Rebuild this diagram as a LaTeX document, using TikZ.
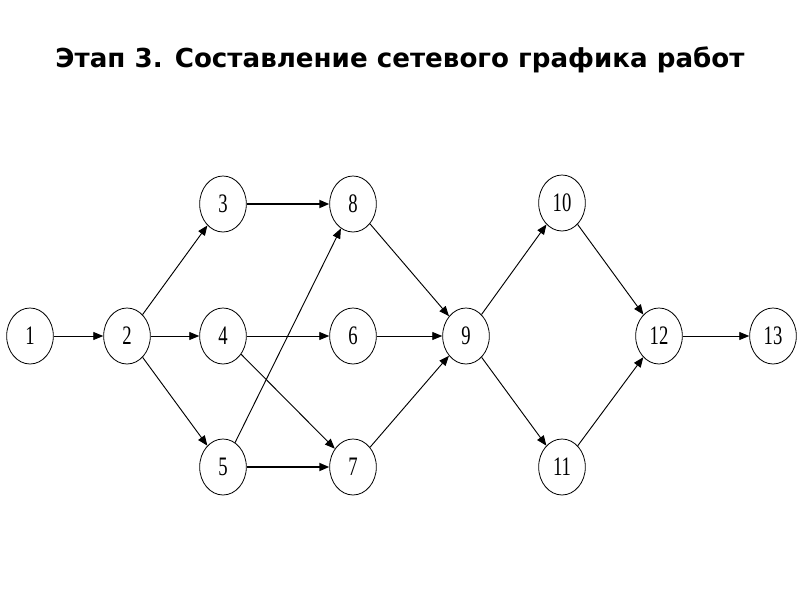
\documentclass[tikz,border=0pt]{standalone}
\usepackage{fontspec}
\setmainfont{Liberation Serif}
\newfontfamily\titlefont{DejaVu Sans}
\newfontfamily\numfont{Liberation Serif}[FakeStretch=0.7]
\usetikzlibrary{
    arrows.meta,     % For arrow tips
    shapes.geometric % For ellipse nodes
}

\begin{document}
\begin{tikzpicture}[
    x=0.75pt, y=-0.75pt, % pixel coordinates, y pointing down
    >={Triangle[length=7.5pt, width=6pt]}, % Set default arrow tip style
    event/.style={ellipse, draw, line width=0.6pt, inner sep=0pt,
        minimum width=35pt, minimum height=42pt,
        font=\numfont\fontsize{20}{20}\selectfont}, % Style for events
    work/.style={->, line width=0.7pt},  % Style for works
    heavy/.style={->, line width=1.3pt}  % Style for darker works
]
    \useasboundingbox (0,0) rectangle (800,600);

    % Title
    \node[font=\titlefont\bfseries\fontsize{19.6}{22}\selectfont] (title) at (400,60)
        {Этап 3. Составление сетевого графика работ};

    % Events
    \node[event] (n1)  at (30,336)  {1};
    \node[event] (n2)  at (127,336) {2};
    \node[event] (n3)  at (223,204) {3};
    \node[event] (n4)  at (223,336) {4};
    \node[event] (n5)  at (223,467) {5};
    \node[event] (n8)  at (353,204) {8};
    \node[event] (n6)  at (353,336) {6};
    \node[event] (n7)  at (353,467) {7};
    \node[event] (n9)  at (466,336) {9};
    \node[event] (n10) at (562,203) {10};
    \node[event] (n11) at (562,467) {11};
    \node[event] (n12) at (659,336) {12};
    \node[event] (n13) at (773,336) {13};

    % Works
    \draw[work] (n1) -- (n2);
    \draw[work] (n2) -- (n3);
    \draw[work] (n2) -- (n4);
    \draw[work] (n2) -- (n5);
    \draw[heavy] (n3) -- (n8);
    \draw[work] (n4) -- (n6);
    \draw[work] (n4) -- (n7);
    \draw[work] (n5) -- (n8);
    \draw[heavy] (n5) -- (n7);
    \draw[work] (n8) -- (n9);
    \draw[work] (n6) -- (n9);
    \draw[work] (n7) -- (n9);
    \draw[work] (n9) -- (n10);
    \draw[work] (n9) -- (n11);
    \draw[work] (n10) -- (n12);
    \draw[work] (n11) -- (n12);
    \draw[work] (n12) -- (n13);

\end{tikzpicture}
\end{document}
